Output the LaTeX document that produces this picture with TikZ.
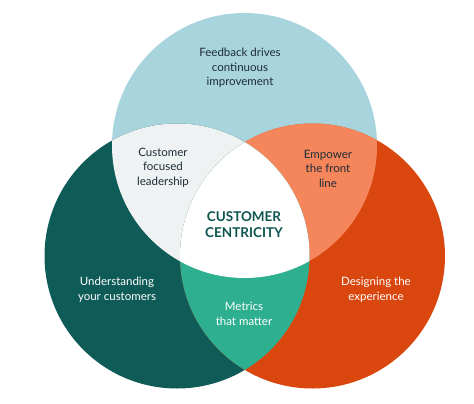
\documentclass[tikz,border=0pt]{standalone}
\usepackage{fontspec}
\setmainfont{Lato}
\definecolor{cblue}{HTML}{A8D4DE}
\definecolor{cteal}{HTML}{0F5B58}
\definecolor{corange}{HTML}{D9470F}
\definecolor{cgray}{HTML}{EEF2F2}
\definecolor{csalmon}{HTML}{F5855B}
\definecolor{cgreen}{HTML}{2EAF8F}
\definecolor{cdark}{HTML}{1E2C38}
\definecolor{ctitle}{HTML}{0F5550}
\tikzset{
  lbl/.style={align=center, font=\fontsize{11.5}{14.5}\selectfont, text=cdark, inner sep=0pt},
  wlbl/.style={lbl, text=white},
  ttl/.style={align=center, font=\fontsize{13.5}{15.5}\selectfont\bfseries, text=ctitle, inner sep=0pt}
}
\begin{document}
\begin{tikzpicture}[x=1pt,y=-1pt]
\useasboundingbox (0,0) rectangle (474,404);
\def\rr{132.5}
\coordinate (T) at (244.5,145.5);
\coordinate (L) at (177,256);
\coordinate (R) at (312.5,256);
\fill[cblue] (T) circle (\rr);
\fill[cteal] (L) circle (\rr);
\fill[corange] (R) circle (\rr);
\begin{scope}
  \clip (T) circle (\rr);
  \fill[cgray] (L) circle (\rr);
  \fill[csalmon] (R) circle (\rr);
\end{scope}
\begin{scope}
  \clip (L) circle (\rr);
  \fill[cgreen] (R) circle (\rr);
  \clip (R) circle (\rr);
  \fill[white] (T) circle (\rr);
\end{scope}
\node[lbl] (fb) at (240,68) {Feedback drives\\continuous\\improvement};
\node[lbl] (cf) at (163,167.5) {Customer\\focused\\leadership};
\node[lbl] (ep) at (328,168.5) {Empower\\the front\\line};
\node[ttl] (cc) at (244,224.5) {CUSTOMER\\CENTRICITY};
\node[wlbl] (uy) at (117,289.5) {Understanding\\your customers};
\node[wlbl] (de) at (376,289.5) {Designing the\\experience};
\node[wlbl] (mt) at (244,314) {Metrics\\that matter};
\end{tikzpicture}
\end{document}
